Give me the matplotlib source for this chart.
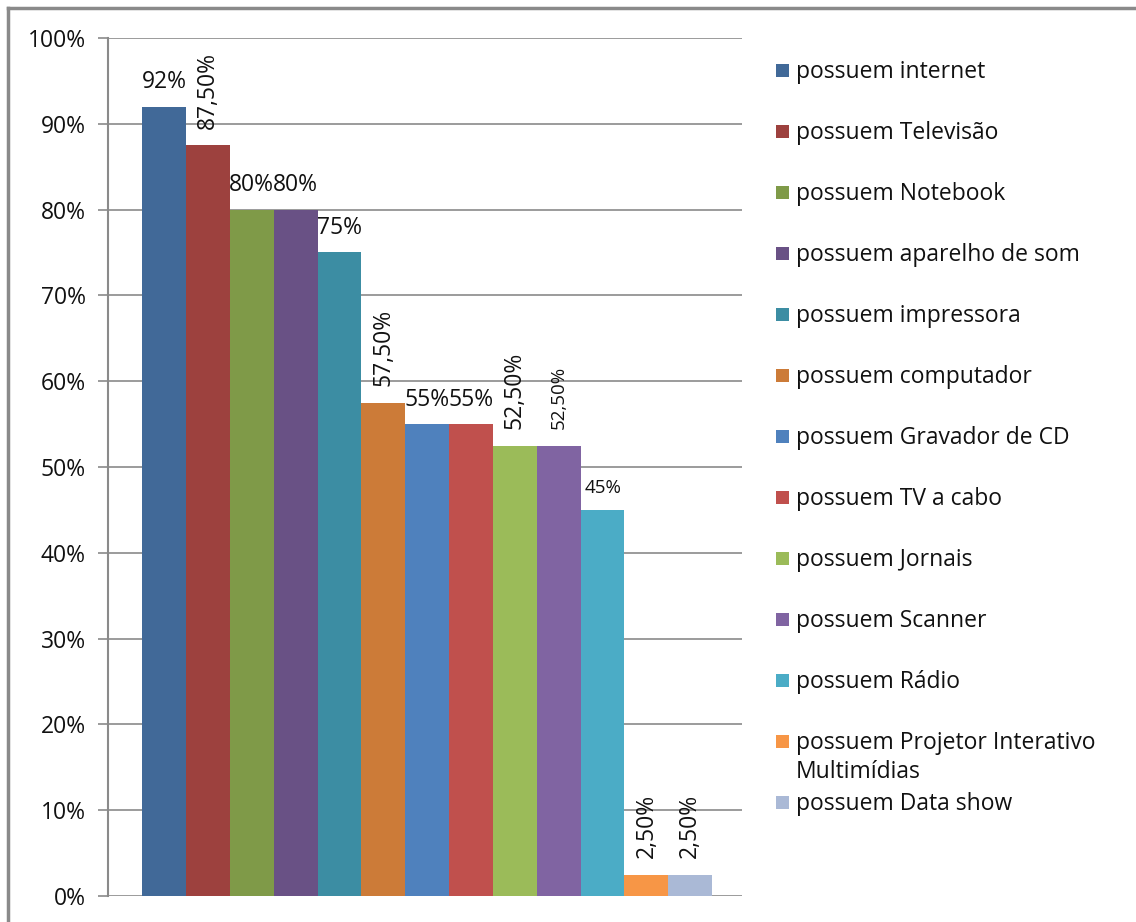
import matplotlib
matplotlib.use("Agg")
import matplotlib.pyplot as plt
from matplotlib.patches import Rectangle
from matplotlib.lines import Line2D
from matplotlib.ticker import FixedLocator

plt.rcParams["font.family"] = ["Open Sans", "DejaVu Sans"]

categories = [
    "possuem internet",
    "possuem Televisão",
    "possuem Notebook",
    "possuem aparelho de som",
    "possuem impressora",
    "possuem computador",
    "possuem Gravador de CD",
    "possuem TV a cabo",
    "possuem Jornais",
    "possuem Scanner",
    "possuem Rádio",
    "possuem Projetor Interativo\nMultimídias",
    "possuem Data show",
]
values = [92, 87.5, 80, 80, 75, 57.5, 55, 55, 52.5, 52.5, 45, 2.5, 2.5]
value_labels = ["92%", "87,50%", "80%", "80%", "75%", "57,50%", "55%", "55%",
                "52,50%", "52,50%", "45%", "2,50%", "2,50%"]
tick_values = [0, 10, 20, 30, 40, 50, 60, 70, 80, 90, 100]
tick_labels = ["0%", "10%", "20%", "30%", "40%", "50%", "60%", "70%", "80%", "90%", "100%"]

colors = ["#416998", "#9D413E", "#7F9A48", "#695185", "#3C8DA3", "#CC7B38",
          "#4F81BD", "#C0504D", "#9BBB59", "#8064A2", "#4BACC6", "#F79646", "#AAB9D6"]

# label styling: rotated labels for the decimal values, smaller text on two of them
rotated = {1, 5, 8, 9, 11, 12}
small = {9, 10}
FS = 16.5
FS_SMALL = 13.5

W, H = 1136, 922
fig = plt.figure(figsize=(W / 100, H / 100), dpi=100)

ax = fig.add_axes([108 / W, 1 - 896 / H, (742 - 108) / W, (896 - 38) / H])
x = list(range(len(values)))
ax.bar(x, values, width=1.0, color=colors, edgecolor="none", zorder=3)

ax.set_ylim(0, 100)
ax.set_xlim(-1.28, 13.18)
ax.yaxis.set_major_locator(FixedLocator(tick_values))
ax.set_yticklabels(tick_labels, fontsize=FS, color="#111111")
ax.set_xticks([])
ax.grid(axis="y", color="#8a8a8a", linewidth=1.2, zorder=0)
for s in ["top", "right", "bottom"]:
    ax.spines[s].set_visible(False)
ax.spines["left"].set_color("#8a8a8a")
ax.spines["left"].set_linewidth(1.5)
ax.tick_params(axis="y", length=7, width=1.2, color="#8a8a8a", pad=9)

for xi, v, lab, i in zip(x, values, value_labels, range(len(values))):
    fs = FS_SMALL if i in small else FS
    if i in rotated:
        ax.annotate(lab, (xi, v), xytext=(0, 12), textcoords="offset points",
                    rotation=90, ha="center", va="bottom", fontsize=fs, color="#111111")
    else:
        ax.annotate(lab, (xi, v), xytext=(0, 9), textcoords="offset points",
                    ha="center", va="bottom", fontsize=fs, color="#111111")

# legend on the right, one entry per bar
for i, (lab, c) in enumerate(zip(categories, colors)):
    yc = 70 + 61 * i
    fig.patches.append(Rectangle((776 / W, 1 - (yc + 7) / H), 13 / W, 13 / H,
                                 transform=fig.transFigure, facecolor=c, edgecolor="none"))
    fig.text(796 / W, 1 - (yc - 10) / H, lab, fontsize=FS, color="#111111",
             ha="left", va="top", linespacing=1.3)

# chart frame
fig.lines.append(Line2D([8 / W, 8 / W], [0, 1 - 8 / H], transform=fig.transFigure,
                        color="#8a8a8a", linewidth=2.5))
fig.lines.append(Line2D([8 / W, 1], [1 - 8 / H, 1 - 8 / H], transform=fig.transFigure,
                        color="#8a8a8a", linewidth=2.5))

fig.savefig("out.png", dpi=100)
